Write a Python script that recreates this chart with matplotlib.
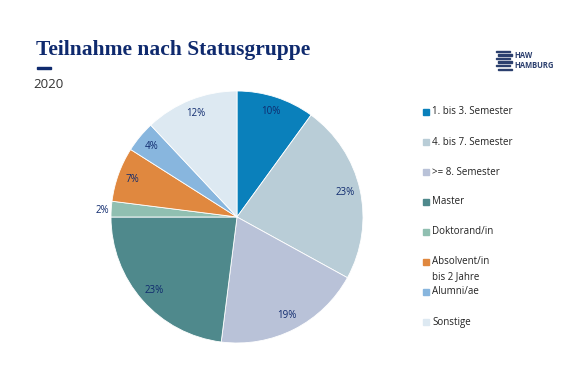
import matplotlib
matplotlib.use("Agg")
import matplotlib.pyplot as plt
from matplotlib.patches import Rectangle

labels = ["1. bis 3. Semester", "4. bis 7. Semester", ">= 8. Semester", "Master",
          "Doktorand/in", "Absolvent/in\nbis 2 Jahre", "Alumni/ae", "Sonstige"]
shares = [10, 23, 19, 23, 2, 7, 4, 12]
colors = ["#0a80bb", "#b9cdd7", "#b9c2d8", "#4f898c", "#90bfb1", "#e0883f", "#88b6de", "#dde9f2"]

navy = "#0f2a6e"
W, H = 570, 380
fig = plt.figure(figsize=(W / 100, H / 100), dpi=100)
plt.rcParams["font.family"] = ["Open Sans", "DejaVu Sans"]

# pie: centre (237, 217) px, radius 126 px
cx, cy, r = 237, 217, 126
ax = fig.add_axes([(cx - r) / W, (H - cy - r) / H, 2 * r / W, 2 * r / H])
wedges, texts, autotexts = ax.pie(
    shares, colors=colors, startangle=90, counterclock=False,
    autopct="%d%%", pctdistance=0.88,
    wedgeprops=dict(edgecolor="white", linewidth=0.6),
    textprops=dict(color=navy, fontsize=7))
ax.set_xlim(-1, 1)
ax.set_ylim(-1, 1)
# the tiny slice gets its label outside
autotexts[4].set_position((-1.07, 0.05))

# title block
fig.text(36 / W, 1 - 50 / H, "Teilnahme nach Statusgruppe", family="Liberation Serif",
         fontweight="bold", fontsize=15.5, color=navy, va="center", ha="left")
fig.patches.append(Rectangle((37 / W, 1 - 69 / H), 14 / W, 2 / H,
                             transform=fig.transFigure, color=navy))
fig.text(33 / W, 1 - 85 / H, "2020", fontsize=9.5, color="#333333", va="center", ha="left")

# logo
for i in range(6):
    y = 1 - (52 + i * 3.6) / H
    x0 = 496 if i % 2 == 0 else 498
    fig.patches.append(Rectangle((x0 / W, y), 14 / W, 1.3 / H,
                                 transform=fig.transFigure, color="#2b3f6e"))
fig.text(514 / W, 1 - 56 / H, "HAW", fontsize=5.5, fontweight="bold", color="#2b3f6e", va="center")
fig.text(514 / W, 1 - 66 / H, "HAMBURG", fontsize=5.5, fontweight="bold", color="#2b3f6e", va="center")

# legend
for i, (lab, col) in enumerate(zip(labels, colors)):
    yp = 112 + 30 * i
    fig.patches.append(Rectangle((423 / W, 1 - (yp + 3) / H), 6 / W, 6 / H,
                                 transform=fig.transFigure, color=col))
    multi = "\n" in lab
    fig.text(432 / W, 1 - (yp - 6 if multi else yp) / H, lab, fontsize=7, color="#222222",
             va="top" if multi else "center", ha="left", linespacing=1.5)

fig.savefig("out.png", dpi=100, facecolor="white")
